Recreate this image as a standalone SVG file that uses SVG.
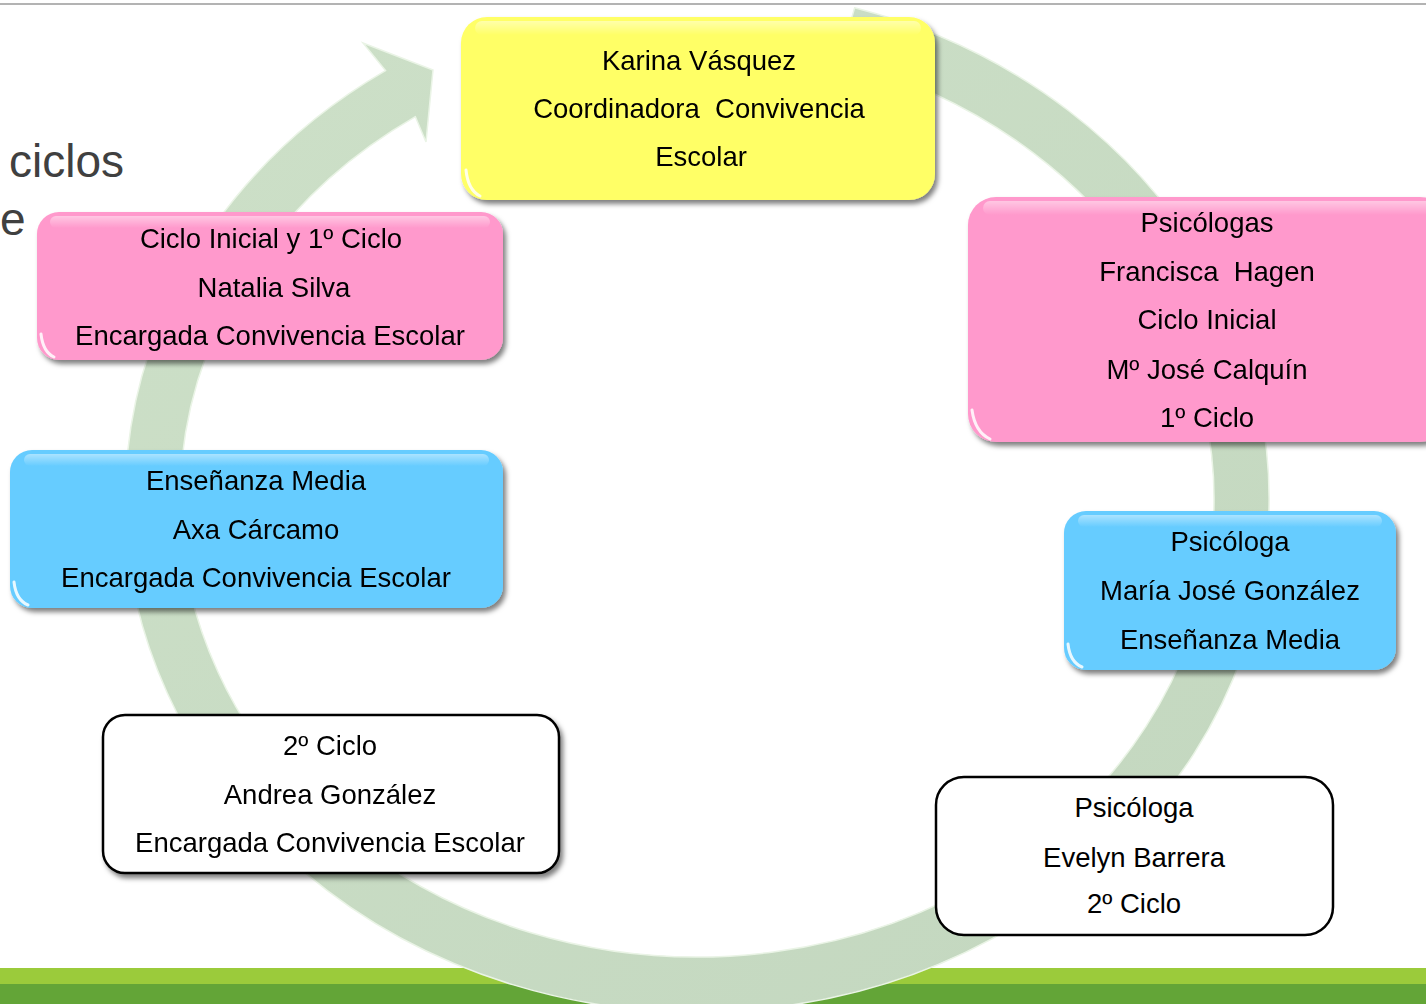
<svg xmlns="http://www.w3.org/2000/svg" width="1426" height="1004" viewBox="0 0 1426 1004">
<style>
.t{font-family:"Liberation Sans",Arial,sans-serif;font-size:27.5px;fill:#000;text-anchor:middle;white-space:pre}
.title{font-family:"Liberation Sans",Arial,sans-serif;font-size:46px;fill:#404040}
.box{filter:url(#sh)}
.gloss{fill:url(#gl)}
.hl{fill:none;stroke:#fff;stroke-width:3;stroke-linecap:round;opacity:.85}
</style>
<defs>
<filter id="sh" x="-10%" y="-10%" width="125%" height="130%">
<feDropShadow dx="3" dy="4" stdDeviation="2.5" flood-color="#000" flood-opacity="0.5"/>
</filter>
<linearGradient id="gl" x1="0" y1="0" x2="0" y2="1">
<stop offset="0" stop-color="#fff" stop-opacity="0.45"/>
<stop offset="1" stop-color="#fff" stop-opacity="0"/>
</linearGradient>
<linearGradient id="ring" x1="0" y1="0" x2="1" y2="1">
<stop offset="0" stop-color="#cde0c8"/>
<stop offset="1" stop-color="#c3d7bf"/>
</linearGradient>
</defs>
<rect width="1426" height="1004" fill="#fff"/>
<line x1="0" y1="4" x2="1426" y2="4" stroke="#9a9a9a" stroke-width="1.5"/>
<rect x="0" y="968" width="1426" height="16" fill="#9bcb3b"/>
<rect x="0" y="984" width="1426" height="20" fill="#63a537"/>
<text class="title" x="9" y="177">ciclos</text>
<text class="title" x="0" y="235">e</text>
<g id="connectors">
<path d="M 854.6,7.8 A 572 512 0 1 1 385.5,70.6 L 363,43 L 433,70 L 426,142 L 415.4,116.7 A 517 457 0 1 0 839.5,60.7 Z" fill="url(#ring)" stroke="#eaf4e6" stroke-width="1.5"/>
</g>
<g id="node-karina" class="box">
<rect x="461" y="17" width="474" height="183" rx="26" fill="#ffff66"/>
<rect x="475" y="21" width="446" height="14" rx="7" class="gloss"/>
<path class="hl" d="M466,170 Q468,190 480,196"/>
<text class="t" x="699" y="70">Karina Vásquez</text>
<text class="t" x="699" y="118" xml:space="preserve">Coordinadora  Convivencia</text>
<text class="t" x="701" y="166">Escolar</text>
</g>
<g id="node-ciclo-inicial" class="box">
<rect x="37" y="212" width="466" height="148" rx="22" fill="#ff99cc"/>
<rect x="50" y="216" width="440" height="12" rx="6" class="gloss"/>
<path class="hl" d="M41,334 Q43,352 54,357"/>
<text class="t" x="271" y="248">Ciclo Inicial y 1º Ciclo</text>
<text class="t" x="274" y="297">Natalia Silva</text>
<text class="t" x="270" y="345">Encargada Convivencia Escolar</text>
</g>
<g id="node-psicologas" class="box">
<rect x="968" y="197" width="480" height="245" rx="28" fill="#ff99cc"/>
<rect x="983" y="201" width="450" height="14" rx="7" class="gloss"/>
<path class="hl" d="M972,410 Q975,432 990,439"/>
<text class="t" x="1207" y="232">Psicólogas</text>
<text class="t" x="1207" y="281" xml:space="preserve">Francisca  Hagen</text>
<text class="t" x="1207" y="329">Ciclo Inicial</text>
<text class="t" x="1207" y="379">Mº José Calquín</text>
<text class="t" x="1207" y="427">1º Ciclo</text>
</g>
<g id="node-axa" class="box">
<rect x="10" y="450" width="493" height="158" rx="22" fill="#66ccff"/>
<rect x="24" y="454" width="465" height="12" rx="6" class="gloss"/>
<path class="hl" d="M14,582 Q16,600 28,605"/>
<text class="t" x="256" y="490">Enseñanza Media</text>
<text class="t" x="256" y="539">Axa Cárcamo</text>
<text class="t" x="256" y="587">Encargada Convivencia Escolar</text>
</g>
<g id="node-maria-jose" class="box">
<rect x="1064" y="511" width="332" height="159" rx="22" fill="#66ccff"/>
<rect x="1078" y="515" width="304" height="12" rx="6" class="gloss"/>
<path class="hl" d="M1068,644 Q1070,662 1082,667"/>
<text class="t" x="1230" y="551">Psicóloga</text>
<text class="t" x="1230" y="600">María José González</text>
<text class="t" x="1230" y="649">Enseñanza Media</text>
</g>
<g id="node-andrea" class="box">
<rect x="103" y="715" width="456" height="158" rx="22" fill="#fff" stroke="#000" stroke-width="2.5"/>
<text class="t" x="330" y="755">2º Ciclo</text>
<text class="t" x="330" y="804">Andrea González</text>
<text class="t" x="330" y="852">Encargada Convivencia Escolar</text>
</g>
<g id="node-evelyn">
<rect x="936" y="777" width="397" height="158" rx="28" fill="#fff" stroke="#000" stroke-width="2.5"/>
<text class="t" x="1134" y="817">Psicóloga</text>
<text class="t" x="1134" y="867">Evelyn Barrera</text>
<text class="t" x="1134" y="913">2º Ciclo</text>
</g>
</svg>
